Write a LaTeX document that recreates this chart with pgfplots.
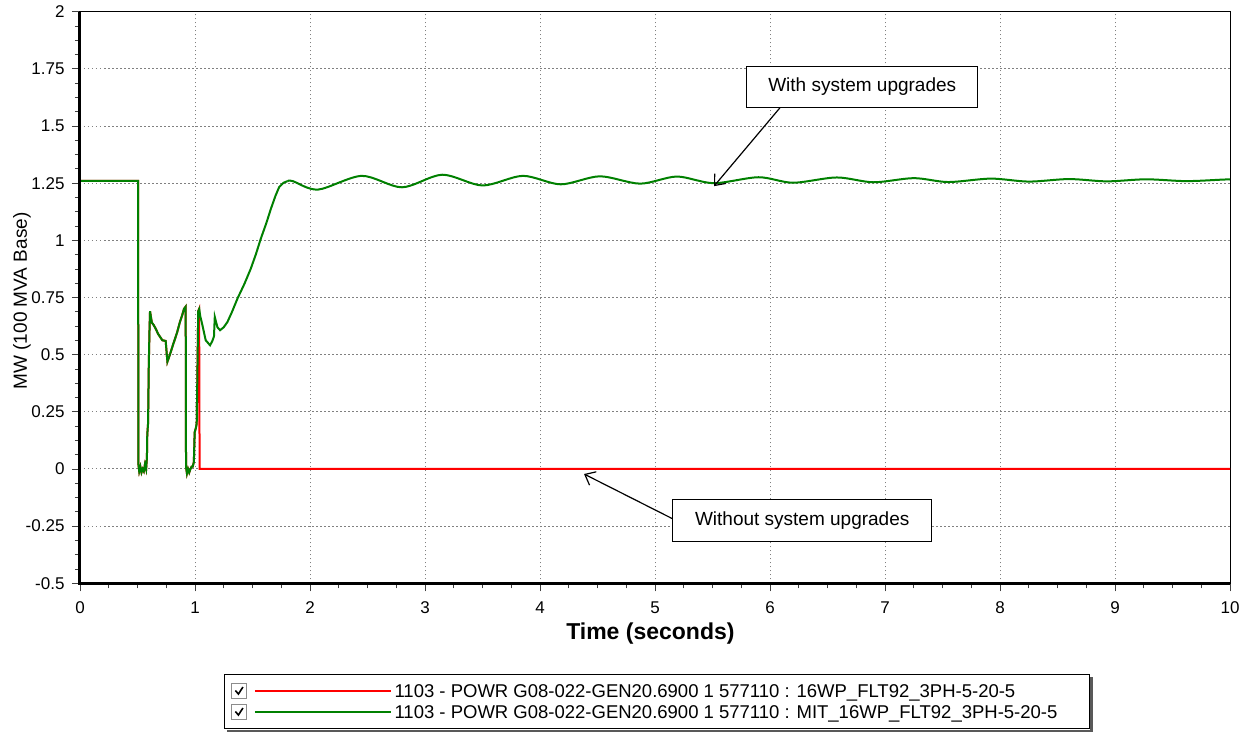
\documentclass[border=0pt]{standalone}
\usepackage{fontspec}
\setmainfont{Liberation Sans}
\usepackage{pgfplots}
\pgfplotsset{compat=1.18}
\usetikzlibrary{arrows.meta}
\definecolor{plotgreen}{RGB}{0,128,0}
\definecolor{plotred}{RGB}{255,0,0}
\newcommand{\checkboximage}[1]{%
   \draw[black!45, line width=1pt, fill=white] (0pt,-7.5pt) rectangle (15pt,7.5pt);
   \draw[black, line width=1.6pt] (3.5pt,0.5pt) -- (6.5pt,-3pt) -- (11pt,4pt);
   \draw[#1, line width=1.3pt] (23pt,0pt) -- (159pt,0pt);}

\begin{document}
\begin{tikzpicture}
\begin{axis}[
 scale only axis, width=1150pt, height=571.6pt,
 xmin=0, xmax=10, ymin=-0.5, ymax=2,
 xtick={0,1,2,3,4,5,6,7,8,9,10},
 xticklabels={0,1,2,3,4,5,6,7,8,9,10},
 ytick={-0.5,-0.25,0,0.25,0.5,0.75,1,1.25,1.5,1.75,2},
 yticklabels={-0.5,-0.25,0,0.25,0.5,0.75,1,1.25,1.5,1.75,2},
 minor x tick num=3, minor y tick num=3,
 tick align=outside, tick pos=left,
 major tick length=8pt, minor tick length=5pt,
 tick style={black!75, line width=0.8pt},
 ticklabel style={font=\fontsize{17}{20}\selectfont},
 xticklabel style={yshift=-7pt},
 yticklabel style={xshift=-4pt},
 grid=major,
 major grid style={black!50, line width=1pt, dash pattern=on 1.5pt off 2.5pt},
 axis line style={black, line width=1pt},
 xlabel={Time (seconds)},
 xlabel style={font=\fontsize{23}{27}\selectfont\bfseries, at={(axis description cs:0.496,-0.0887)}, anchor=center},
 ylabel={MW (100 MVA Base)},
 ylabel style={font=\fontsize{19}{22}\selectfont, at={(axis description cs:-0.0504,0.494)}, anchor=center},
 clip=false,
 legend cell align=left,
 legend style={name=leg, at={(0.5017,-0.1587)}, anchor=north, draw=black, line width=1pt, fill=white,
   font=\fontsize{18.5}{22}\selectfont, inner xsep=7pt, inner ysep=6pt,
   nodes={inner xsep=3pt, inner ysep=2pt, text height=15pt, text depth=2pt}},
]
% red: without system upgrades
\addplot[plotred, line width=2pt, legend image code/.code={\checkboximage{plotred}}] coordinates {
(0,1.26)(0.505,1.26)(0.508,0.02)(0.515,-0.01)(0.525,0.01)(0.535,-0.015)(0.545,0.0)(0.555,-0.01)(0.565,0.02)(0.575,0.0)(0.582,0.05)(0.585,0.15)(0.592,0.2)(0.598,0.45)(0.604,0.6)(0.609,0.69)(0.615,0.67)(0.625,0.64)(0.64,0.63)(0.658,0.614)(0.68,0.59)(0.70,0.575)(0.716,0.563)(0.745,0.56)(0.76,0.469)(0.775,0.49)(0.788,0.51)(0.81,0.545)(0.83,0.575)(0.846,0.60)(0.87,0.645)(0.89,0.675)(0.904,0.70)(0.919,0.71)(0.922,0.01)(0.93,-0.02)(0.94,0.0)(0.95,-0.015)(0.96,0.0)(0.97,0.01)(0.98,0.01)(0.99,0.03)(0.997,0.16)(1.008,0.18)(1.015,0.20)(1.028,0.69)(1.036,0.70)(1.04,0.0)(10,0)
};
\addlegendentry{1103 - POWR G08-022-GEN20.6900 1 577110 : 16WP\_FLT92\_3PH-5-20-5}
% green: with system upgrades (transient)
\addplot[plotgreen, line width=2pt, legend image code/.code={\checkboximage{plotgreen}}] coordinates {
(0,1.26)(0.505,1.26)(0.508,0.02)(0.515,-0.01)(0.525,0.01)(0.535,-0.015)(0.545,0.0)(0.555,-0.01)(0.565,0.02)(0.575,0.0)(0.582,0.05)(0.585,0.15)(0.592,0.2)(0.598,0.45)(0.604,0.6)(0.609,0.69)(0.615,0.67)(0.625,0.64)(0.64,0.63)(0.658,0.614)(0.68,0.59)(0.70,0.575)(0.716,0.563)(0.745,0.56)(0.76,0.469)(0.775,0.49)(0.788,0.51)(0.81,0.545)(0.83,0.575)(0.846,0.60)(0.87,0.645)(0.89,0.675)(0.904,0.70)(0.919,0.71)(0.922,0.01)(0.93,-0.02)(0.94,0.0)(0.95,-0.015)(0.96,0.0)(0.97,0.01)(0.98,0.01)(0.99,0.03)(0.997,0.16)(1.008,0.18)(1.015,0.20)(1.028,0.69)(1.037,0.70)(1.045,0.67)(1.064,0.63)(1.093,0.563)(1.131,0.541)(1.151,0.56)(1.165,0.58)(1.172,0.665)(1.195,0.62)(1.218,0.607)(1.25,0.62)(1.282,0.643)(1.32,0.685)(1.369,0.745)(1.43,0.81)(1.485,0.876)(1.53,0.94)(1.572,1.007)(1.62,1.075)(1.66,1.138)(1.70,1.195)(1.732,1.233)(1.77,1.252)(1.805,1.259)
};
\addlegendentry{1103 - POWR G08-022-GEN20.6900 1 577110 : MIT\_16WP\_FLT92\_3PH-5-20-5\hspace*{22pt}}
% green: oscillating tail
\addplot[plotgreen, line width=2pt, smooth, forget plot] coordinates {
(1.805,1.259)(1.85,1.259)(2.07,1.222)(2.45,1.282)(2.80,1.232)(3.15,1.287)(3.50,1.24)(3.85,1.282)(4.18,1.245)(4.52,1.28)(4.87,1.248)(5.19,1.279)(5.51,1.25)(5.90,1.276)(6.20,1.252)(6.58,1.275)(6.90,1.254)(7.25,1.272)(7.55,1.255)(7.92,1.27)(8.25,1.257)(8.60,1.268)(8.93,1.258)(9.27,1.267)(9.62,1.259)(9.95,1.266)(10,1.266)
};
% thick left and bottom axis lines
\draw[black, line width=3pt] (rel axis cs:0,1) -- (rel axis cs:0,0) -- (rel axis cs:1,0);
% annotations
\node[draw=black, line width=1pt, fill=white, minimum width=231pt, minimum height=41.7pt, inner sep=0pt, font=\fontsize{19}{23}\selectfont] at (axis cs:6.802,1.671) {With system upgrades};
\draw[black, line width=1.2pt, -{Straight Barb[length=9pt,width=15pt]}] (axis cs:6.087,1.58) -- (axis cs:5.513,1.237);
\node[draw=black, line width=1pt, fill=white, minimum width=259pt, minimum height=41.7pt, inner sep=0pt, font=\fontsize{19}{23}\selectfont] at (axis cs:6.28,-0.226) {Without system upgrades};
\draw[black, line width=1.2pt, -{Straight Barb[length=9pt,width=15pt]}] (axis cs:5.154,-0.218) -- (axis cs:4.383,-0.022);
\end{axis}
% legend shadow
\fill[black!65] ([shift={(0.5pt,-3pt)}]leg.north east) rectangle ([shift={(3.5pt,-3.5pt)}]leg.south east);
\fill[black!65] ([shift={(3pt,-0.5pt)}]leg.south west) rectangle ([shift={(3.5pt,-3.5pt)}]leg.south east);
\pgfresetboundingbox
\path[use as bounding box] ([shift={(-80pt,-147.7pt)}]current axis.south west) rectangle ([shift={(20pt,11.7pt)}]current axis.north east);
\end{tikzpicture}
\end{document}
